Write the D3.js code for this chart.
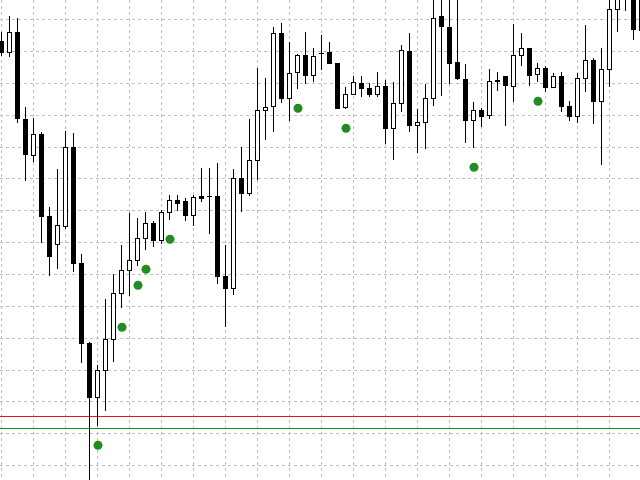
<!DOCTYPE html>
<html>
<head>
<meta charset="utf-8">
<script src="https://cdn.jsdelivr.net/npm/d3@7/dist/d3.min.js"></script>
<style>
html,body{margin:0;padding:0;background:#fff;overflow:hidden;}
svg{display:block;}
</style>
</head>
<body>
<svg id="chart" width="640" height="480"></svg>
<script>
// Bar index (one per candle)
const bars = d3.range(0, 81);
// OHLC values (price points)
const opens  = [439,427.3,447.7,361,324.3,346,263.7,235.7,253.3,333,216.7,136.7,82.3,109.7,140.7,186.7,209.7,219.7,241.5,256.7,239.3,267.7,279,278,264.3,284,283.7,284,204,191.3,301.7,286.3,319.7,369.7,373.7,446.7,381.3,407.7,424.7,404.3,427,427.7,416.7,372.7,385.7,396.7,391.7,385.7,393.7,351.7,376.7,428.7,354.7,357.7,381.7,463,453,417,400.7,359.7,369.7,364.3,399.5,403.7,393.7,424.7,431.7,405.3,411.7,392.3,403.7,373.7,363.3,401.7,419.7,378.3,410.7,470.7,485,484,450];
const highs  = [447.3,463.3,461,372.3,361.7,347.7,272.7,310,349,347,226,138,115,181,206,234,266.7,262,268,259,270,285,285,282,285,312,312,317,235,310,333,361,412,401,452.7,457,438,426,447,431,444,438,416.7,392.7,404,404,396.7,408,399,397.7,435,446,370.3,396,490,488,486,484,415,377.7,371.7,410.7,408,404,456,446,431.7,416.7,413.7,406.7,408,378.7,406.7,455,421.3,431.7,485,492,495,490,490];
const lows   = [425,423.3,357.3,299.3,318.3,237.3,205,211.3,251.3,208.3,117.3,-5,54.3,69.3,118.3,172.7,184.3,214.3,230.5,233.3,236.7,260.7,270,259.3,255,278,246.3,196.3,153.3,185.3,268.3,285,301,341,348.3,377.3,359.3,391.3,396.7,398.7,410.7,416.7,371,371.3,385.7,383.3,383.7,383.7,336.3,320.3,368.3,348.3,327.3,331.3,374.3,384.3,396.3,400.3,337.3,332.3,353.3,361.3,389.7,354.3,378.3,414.3,394.3,398.3,388.3,392.3,368.3,359.3,357.3,388.3,356.3,315.3,393.7,448.3,469.3,440.7,440];
const closes = [427.3,447.7,361.7,325.5,346,263.3,223.3,254.7,333,216.3,136.3,82.3,110,140.7,186.7,209.7,220,241.7,256.7,239.3,268,279,277,264.3,283,282,283.7,203.3,191.3,301.7,286.7,319.7,369.7,372.7,446.7,381.3,406.7,424.7,404.3,423.7,426.5,416.7,371.7,385.7,397.7,391.7,385.7,393.7,351.7,376.7,429.7,354.3,357.7,381.7,461.7,453.3,416.7,401.3,359.3,369.7,363.3,398.7,398.5,394.7,424.7,431.7,404.3,411.7,392.3,403.7,373.3,363.3,401.7,419.7,378.3,410.7,470.7,486,492,450.7,485];
// Signal dots (bar index, price)
const signalBars   = [12,15,17,18,21,37,43,59,67];
const signalPrices = [34.7,152.7,194.7,210.7,240.7,371.7,351.7,312.7,378.7];
// Horizontal level lines
const levelNames  = ["red","green"];
const levelPrices = [63.5,51.5];
// Grid levels
const gridPrices = [460.5,428.5,396.5,364.5,332.5,301.5,269.5,237.5,205.5,173.5,141.5,109.5,78.5,46.5,14.5];
const gridBars = [0,4,8,12,16,20,24,28,32,36,40,44,48,52,56,60,64,68,72,76];

const W = 640, H = 480;
const svg = d3.select("#chart");
const x = d3.scaleLinear().domain([0, 80]).range([1.5, 641.5]);
const y = d3.scaleLinear().domain([0, 480]).range([480, 0]);
const row = v => Math.floor(y(v));

svg.append("rect").attr("width", W).attr("height", H).attr("fill", "#fff");

const g = svg.append("g").attr("shape-rendering", "crispEdges");

// grid
g.append("g").selectAll("line").data(gridPrices).join("line")
  .attr("x1", 0).attr("x2", W)
  .attr("y1", d => row(d) + 0.5).attr("y2", d => row(d) + 0.5)
  .attr("stroke", "#c0c0c0").attr("stroke-dasharray", "3,3");
g.append("g").selectAll("line").data(gridBars).join("line")
  .attr("y1", 0).attr("y2", H)
  .attr("x1", d => x(d)).attr("x2", d => x(d))
  .attr("stroke", "#c0c0c0").attr("stroke-dasharray", "3,3");

// level lines
const levelColors = {red: "#dc143c", green: "#228b22"};
g.append("g").selectAll("line").data(levelPrices).join("line")
  .attr("x1", 0).attr("x2", W)
  .attr("y1", d => row(d) + 0.5).attr("y2", d => row(d) + 0.5)
  .attr("stroke", (d, i) => levelColors[levelNames[i]]).attr("stroke-width", 1);

const candles = bars.map(i => ({i, o: opens[i], h: highs[i], l: lows[i], c: closes[i]}));

// wicks
g.append("g").selectAll("line").data(candles).join("line")
  .attr("x1", d => x(d.i)).attr("x2", d => x(d.i))
  .attr("y1", d => row(d.h)).attr("y2", d => row(d.l) + 1)
  .attr("stroke", "#000").attr("stroke-width", 1);

// bodies
const bodies = g.append("g");
candles.forEach(d => {
  const top = row(Math.max(d.o, d.c));
  const bot = row(Math.min(d.o, d.c));
  const cx = x(d.i);
  if (d.c > d.o && bot - top >= 2) {
    bodies.append("rect")
      .attr("x", cx - 2).attr("width", 4)
      .attr("y", top + 0.5).attr("height", bot - top)
      .attr("fill", "#fff").attr("stroke", "#000").attr("stroke-width", 1);
  } else {
    bodies.append("rect")
      .attr("x", cx - 2.5).attr("width", 5)
      .attr("y", top).attr("height", Math.max(1, bot - top + 1))
      .attr("fill", "#000");
  }
});

// signal dots
svg.append("g").selectAll("circle").data(signalBars).join("circle")
  .attr("cx", d => x(d) + 0.5)
  .attr("cy", (d, i) => y(signalPrices[i]))
  .attr("r", 4.5)
  .attr("fill", "#228b22");
</script>
</body>
</html>
